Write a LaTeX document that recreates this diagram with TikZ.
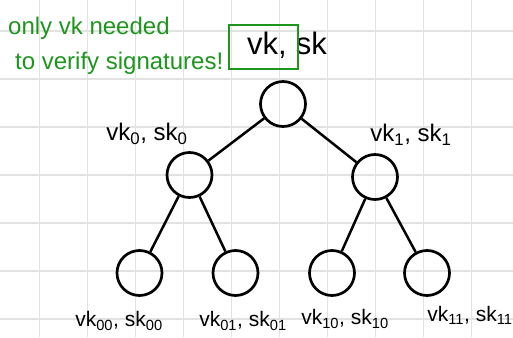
\documentclass[tikz,border=0pt]{standalone}
\usepackage{fontspec}
\setmainfont{Liberation Sans}
\definecolor{gridgray}{RGB}{226,226,226}
\definecolor{handgreen}{RGB}{30,150,30}
\newcommand{\sbx}[1]{\textsubscript{#1}}
\begin{document}
\begin{tikzpicture}[x=1pt,y=-1pt,
  treenode/.style={circle,draw=black,line width=2.7pt,minimum size=45pt,inner sep=0pt},
  edge/.style={draw=black,line width=2.5pt},
  lbl/.style={font=\fontsize{24}{26}\selectfont,inner sep=0pt},
  leaflbl/.style={font=\fontsize{21}{23}\selectfont,inner sep=0pt},
  note/.style={font=\fontsize{24}{26}\selectfont,text=handgreen,inner sep=0pt,anchor=west}]
\useasboundingbox (0,0) rectangle (513,337);
\fill[white] (0,0) rectangle (513,337);
% grid
\foreach \gx in {39.3,87.3,135.3,183.3,231.3,279.3,327.3,375.3,423.3,471.3}
  \draw[gridgray,line width=1.3pt] (\gx,0) -- (\gx,337);
\foreach \gy in {31,79,127,175,223,271,319}
  \draw[gridgray,line width=1.3pt] (0,\gy) -- (513,\gy);
% nodes
\node[treenode] (root) at (283,104) {};
\node[treenode] (c0) at (189.5,175) {};
\node[treenode] (c1) at (375,177) {};
\node[treenode] (l00) at (139.5,273) {};
\node[treenode] (l01) at (235.5,273) {};
\node[treenode] (l10) at (332,273) {};
\node[treenode] (l11) at (427,273) {};
% edges
\path[edge] (root) -- (c0);
\path[edge] (root) -- (c1);
\path[edge] (c0) -- (l00);
\path[edge] (c0) -- (l01);
\path[edge] (c1) -- (l10);
\path[edge] (c1) -- (l11);
% labels
\node[lbl,font=\fontsize{31}{33}\selectfont,anchor=west] (rootlbl) at (247,45) {vk,\hspace{9pt}sk};
\node[lbl] (c0lbl) at (147,134) {vk\sbx{0}, sk\sbx{0}};
\node[lbl] (c1lbl) at (411,135) {vk\sbx{1}, sk\sbx{1}};
\node[leaflbl] (l00lbl) at (119,321) {vk\sbx{00}, sk\sbx{00}};
\node[leaflbl] (l01lbl) at (243,321) {vk\sbx{01}, sk\sbx{01}};
\node[leaflbl] (l10lbl) at (345,319) {vk\sbx{10}, sk\sbx{10}};
\node[leaflbl] (l11lbl) at (470,315) {vk\sbx{11}, sk\sbx{11}};
% green note
\node[note] (note1) at (8,28) {only vk needed};
\node[note] (note2) at (15,63) {to verify signatures!};
\node[draw=handgreen,line width=2pt,inner sep=0pt,minimum width=69pt,minimum height=44pt] (vkbox) at (263.5,47) {};
\end{tikzpicture}
\end{document}
